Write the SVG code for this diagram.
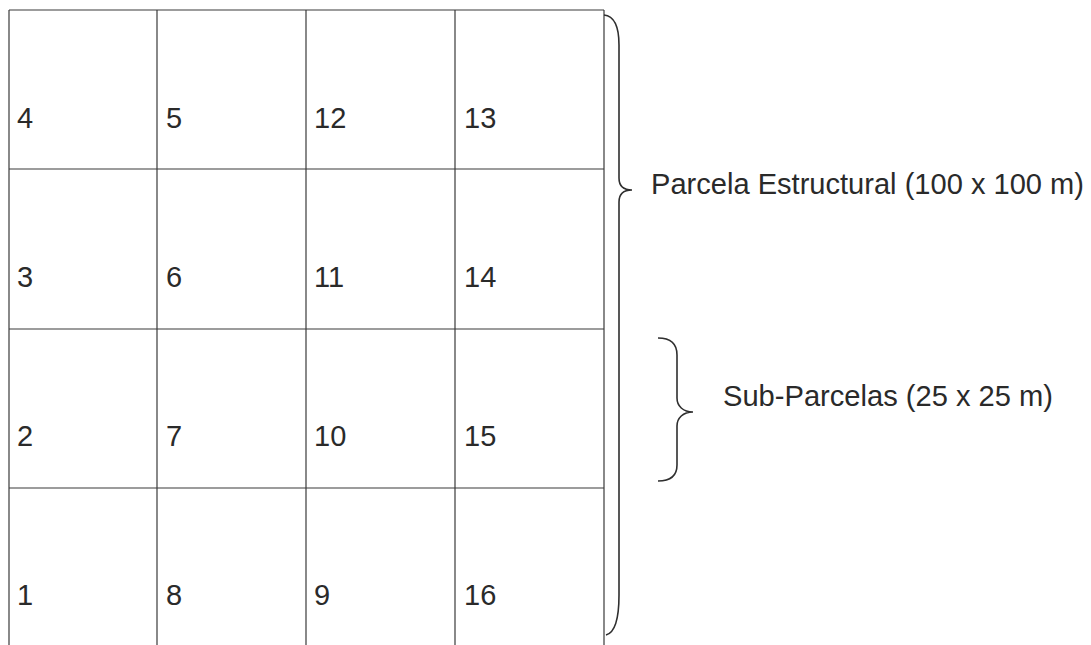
<svg xmlns="http://www.w3.org/2000/svg" width="1091" height="645" viewBox="0 0 1091 645">
<style>
.grid{stroke:#3a3a3a;stroke-width:1.2;fill:none}
.num{font-family:"Liberation Sans",Arial,sans-serif;font-size:29px;fill:#2a2a2a}
.lbl{font-family:"Liberation Sans",Arial,sans-serif;font-size:29px;fill:#2a2a2a}
.brace{stroke:#2f2f2f;stroke-width:1.6;fill:none}
</style>
<rect width="1091" height="645" fill="#ffffff"/>
<g id="grid" class="grid">
<line x1="9" y1="10" x2="604" y2="10"/>
<line x1="9" y1="169" x2="604" y2="169"/>
<line x1="9" y1="329" x2="604" y2="329"/>
<line x1="9" y1="488" x2="604" y2="488"/>
<line x1="9" y1="10" x2="9" y2="645"/>
<line x1="157" y1="10" x2="157" y2="645"/>
<line x1="306" y1="10" x2="306" y2="645"/>
<line x1="455" y1="10" x2="455" y2="645"/>
<line x1="604" y1="10" x2="604" y2="645"/>
</g>
<g id="cell-4"><text class="num" x="17" y="128">4</text></g>
<g id="cell-5"><text class="num" x="166" y="128">5</text></g>
<g id="cell-12"><text class="num" x="314" y="128">12</text></g>
<g id="cell-13"><text class="num" x="464" y="128">13</text></g>
<g id="cell-3"><text class="num" x="17" y="287">3</text></g>
<g id="cell-6"><text class="num" x="166" y="287">6</text></g>
<g id="cell-11"><text class="num" x="314" y="287">11</text></g>
<g id="cell-14"><text class="num" x="464" y="287">14</text></g>
<g id="cell-2"><text class="num" x="17" y="446">2</text></g>
<g id="cell-7"><text class="num" x="166" y="446">7</text></g>
<g id="cell-10"><text class="num" x="314" y="446">10</text></g>
<g id="cell-15"><text class="num" x="464" y="446">15</text></g>
<g id="cell-1"><text class="num" x="17" y="605">1</text></g>
<g id="cell-8"><text class="num" x="166" y="605">8</text></g>
<g id="cell-9"><text class="num" x="314" y="605">9</text></g>
<g id="cell-16"><text class="num" x="464" y="605">16</text></g>
<g id="connectors">
<path class="brace" d="M604,15 C614,16 619,25 619,45 L619,178 C619,186 624,190 632,190 C624,190 619,194 619,202 L619,595 C619,620 614,633 606,635"/>
<path class="brace" d="M658,338 C670,338 677,343 677,355 L677,398 C677,406 683,412 693,412 C683,412 677,418 677,426 L677,465 C677,476 670,481 658,481"/>
</g>
<g id="label-parcela"><text class="lbl" x="651" y="194" textLength="433" lengthAdjust="spacingAndGlyphs">Parcela Estructural (100 x 100 m)</text></g>
<g id="label-sub"><text class="lbl" x="723" y="406" textLength="330" lengthAdjust="spacingAndGlyphs">Sub-Parcelas (25 x 25 m)</text></g>
</svg>
